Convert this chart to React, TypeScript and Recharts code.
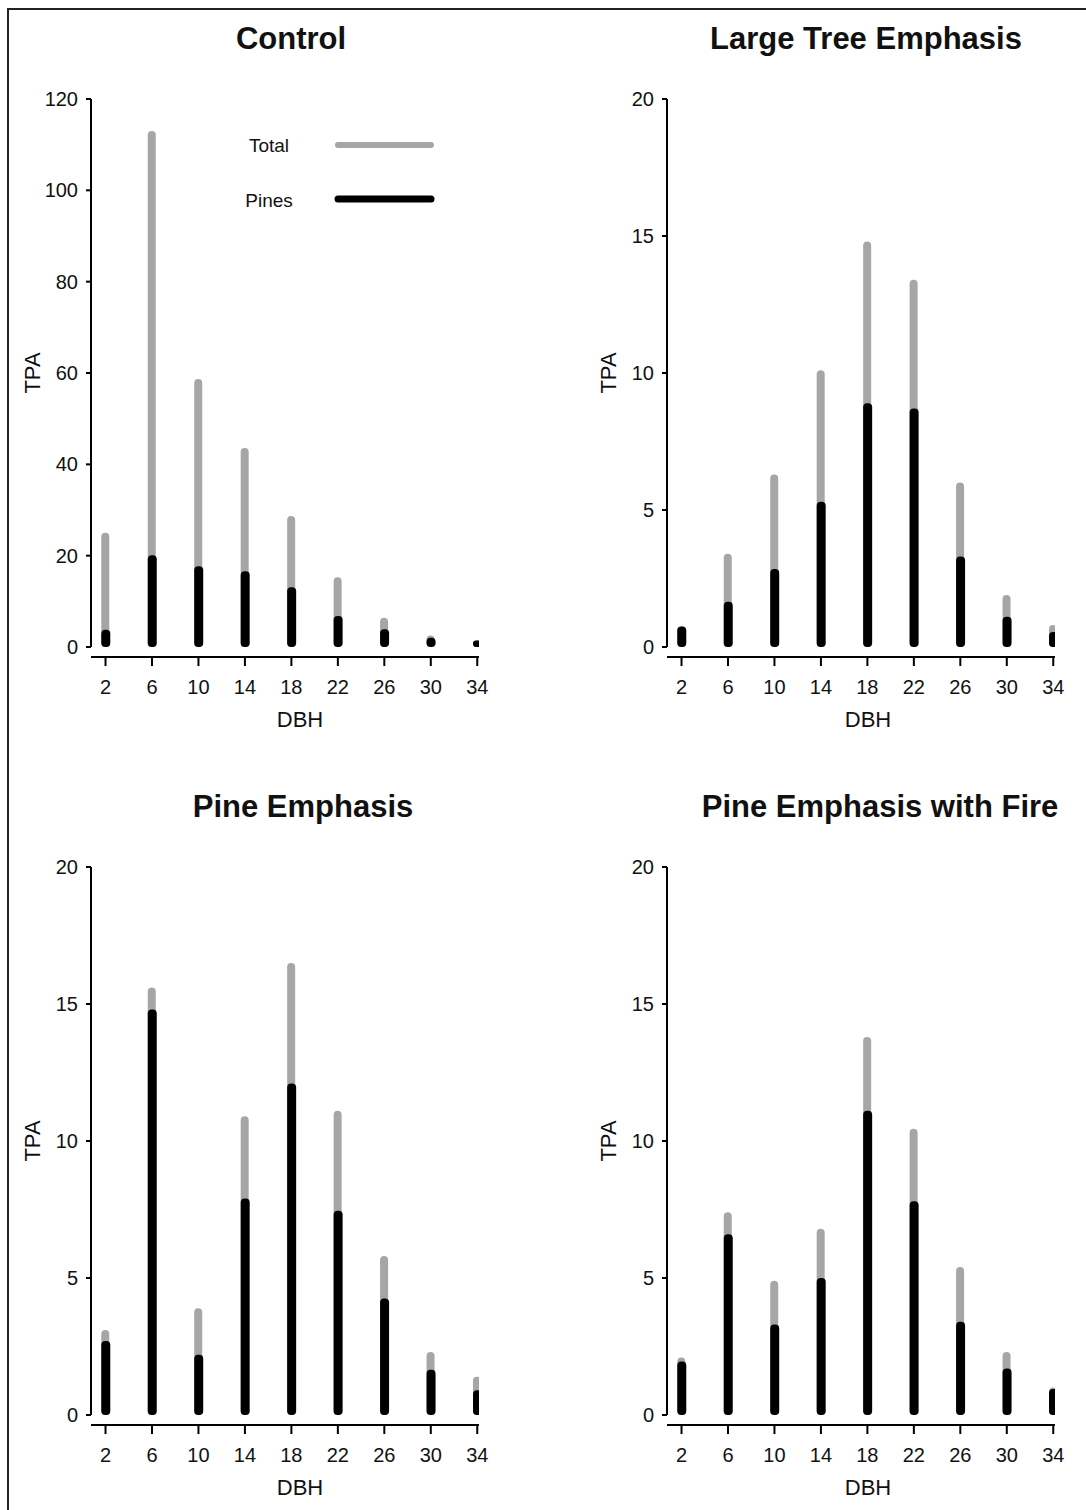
import { BarChart, Bar, XAxis, YAxis, ReferenceLine } from 'recharts';

// diameter classes (inches)
const dbh = [2, 6, 10, 14, 18, 22, 26, 30, 34];

const controlTotal = [25, 113, 58.7, 43.6, 28.7, 15.3, 6.4, 2.5, 1.4];
const controlPines = [3.8, 20.1, 17.7, 16.6, 13.1, 6.8, 3.9, 2.0, 1.4];

const largeTreeTotal = [0.75, 3.4, 6.3, 10.1, 14.8, 13.4, 6.0, 1.9, 0.8];
const largeTreePines = [0.75, 1.65, 2.85, 5.3, 8.9, 8.7, 3.3, 1.1, 0.55];

const pineTotal = [3.1, 15.6, 3.9, 10.9, 16.5, 11.1, 5.8, 2.3, 1.4];
const pinePines = [2.7, 14.8, 2.2, 7.9, 12.1, 7.45, 4.25, 1.65, 0.9];

const fireTotal = [2.1, 7.4, 4.9, 6.8, 13.8, 10.45, 5.4, 2.3, 1.0];
const firePines = [1.95, 6.6, 3.3, 5.0, 11.1, 7.8, 3.4, 1.7, 0.95];

const controlTicks = [0, 20, 40, 60, 80, 100, 120];
const treatmentTicks = [0, 5, 10, 15, 20];

const series = [
  { key: 'total', name: 'Total', color: '#a6a6a6' },
  { key: 'pines', name: 'Pines', color: '#000000' }
];

const FONT = '"Liberation Sans", Arial, Helvetica, sans-serif';
const xDomain: [number, number] = [0.75, 34.15];

const PANEL_W = 543;
const PANEL_H = 768;
const PLOT_W = 388;
const Y_AXIS_W = 60;
const X_AXIS_H = 60;

type PanelProps = {
  title: string;
  total: number[];
  pines: number[];
  yTicks: number[];
  left: number;
  top: number;
  plotLeft: number;
  titleX: number;
  labelX: number;
  showLegend?: boolean;
};

const Panel = ({ title, total, pines, yTicks, left, top, plotLeft, titleX, labelX, showLegend }: PanelProps) => {
  const yMax = yTicks[yTicks.length - 1];
  // zero sits 10px above the x axis line (plot height 558)
  const yMin = -(yMax * 10) / 548;
  const data = dbh.map((d, i) => ({ dbh: d, total: total[i], pines: pines[i] }));

  return (
    <div style={{ position: 'absolute', left, top, width: PANEL_W, height: PANEL_H }}>
      <BarChart
        width={PANEL_W}
        height={PANEL_H}
        data={data}
        margin={{ top: 99, bottom: 51, left: plotLeft - Y_AXIS_W, right: PANEL_W - plotLeft - PLOT_W }}
      >
        <XAxis
          xAxisId='t'
          dataKey='dbh'
          type='number'
          domain={xDomain}
          ticks={dbh}
          allowDataOverflow
          height={X_AXIS_H}
          tickSize={9}
          tickMargin={14}
          axisLine={{ stroke: '#000', strokeWidth: 2 }}
          tickLine={{ stroke: '#000', strokeWidth: 2 }}
          tick={{ fill: '#111', fontSize: 20, fontFamily: FONT }}
        />
        <XAxis xAxisId='p' dataKey='dbh' type='number' domain={xDomain} allowDataOverflow height={0} hide />
        <YAxis
          type='number'
          domain={[yMin, yMax]}
          ticks={yTicks}
          allowDataOverflow
          width={Y_AXIS_W}
          axisLine={false}
          tickSize={5}
          tickMargin={8}
          tickLine={{ stroke: '#000', strokeWidth: 2 }}
          tick={{ fill: '#111', fontSize: 20, fontFamily: FONT }}
        />
        <ReferenceLine
          xAxisId='t'
          segment={[{ x: xDomain[0], y: 0 }, { x: xDomain[0], y: yMax }]}
          stroke='#000'
          strokeWidth={2}
        />
        <Bar
          xAxisId='t'
          dataKey='total'
          name={series[0].name}
          fill={series[0].color}
          barSize={8}
          radius={4}
          isAnimationActive={false}
        />
        <Bar
          xAxisId='p'
          dataKey='pines'
          name={series[1].name}
          fill={series[1].color}
          barSize={9}
          radius={4}
          isAnimationActive={false}
        />
      </BarChart>
      <svg
        width={PANEL_W}
        height={PANEL_H}
        style={{ position: 'absolute', left: 0, top: 0, pointerEvents: 'none', fontFamily: FONT }}
      >
        <text x={titleX} y={49} textAnchor='middle' fontSize={31} fontWeight='bold' fill='#111'>
          {title}
        </text>
        <text x={labelX} y={727} textAnchor='middle' fontSize={22} fill='#111'>
          DBH
        </text>
        <text
          transform={`translate(${plotLeft - 51},373) rotate(-90)`}
          textAnchor='middle'
          fontSize={22}
          fill='#111'
        >
          TPA
        </text>
        {showLegend &&
          series.map((s, i) => (
            <g key={s.key}>
              <text x={269} y={152 + i * 55} textAnchor='middle' fontSize={19} fill='#111'>
                {s.name}
              </text>
              <line
                x1={338}
                x2={431}
                y1={145 + i * 54}
                y2={145 + i * 54}
                stroke={s.color}
                strokeWidth={i === 0 ? 6 : 7}
                strokeLinecap='round'
              />
            </g>
          ))}
      </svg>
    </div>
  );
};

export default function App() {
  return (
    <div
      style={{
        position: 'absolute',
        left: 0,
        top: 0,
        width: 1086,
        height: 1510,
        overflow: 'hidden',
        background: '#fff',
        fontFamily: FONT
      }}
    >
      <div
        style={{
          position: 'absolute',
          left: 7,
          top: 8,
          width: 1100,
          height: 1520,
          border: '2px solid #222'
        }}
      />
      <Panel
        title='Control'
        total={controlTotal}
        pines={controlPines}
        yTicks={controlTicks}
        left={0}
        top={0}
        plotLeft={91}
        titleX={291}
        labelX={300}
        showLegend
      />
      <Panel
        title='Large Tree Emphasis'
        total={largeTreeTotal}
        pines={largeTreePines}
        yTicks={treatmentTicks}
        left={543}
        top={0}
        plotLeft={124}
        titleX={323}
        labelX={325}
      />
      <Panel
        title='Pine Emphasis'
        total={pineTotal}
        pines={pinePines}
        yTicks={treatmentTicks}
        left={0}
        top={768}
        plotLeft={91}
        titleX={303}
        labelX={300}
      />
      <Panel
        title='Pine Emphasis with Fire'
        total={fireTotal}
        pines={firePines}
        yTicks={treatmentTicks}
        left={543}
        top={768}
        plotLeft={124}
        titleX={337}
        labelX={325}
      />
    </div>
  );
}
